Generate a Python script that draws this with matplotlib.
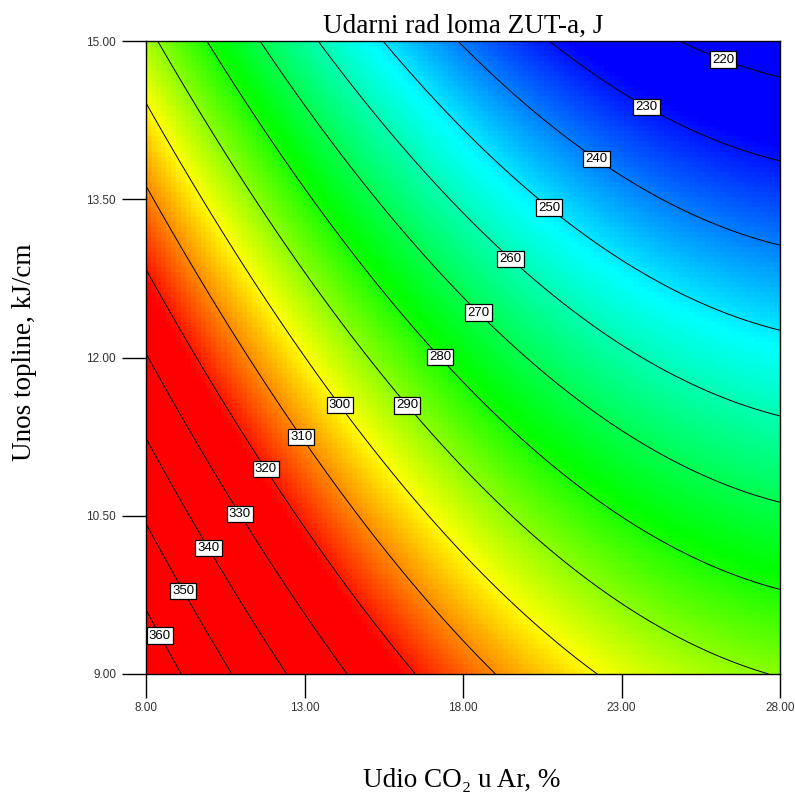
import numpy as np
import matplotlib
matplotlib.use("Agg")
import matplotlib.pyplot as plt
from matplotlib.colors import LinearSegmentedColormap

# ---- data ----
# contour levels (J)
levels = [220, 230, 240, 250, 260, 270, 280, 290, 300, 310, 320, 330, 340, 350, 360]

# crossings of contour lines with the plot frame
# left edge (CO2 = 8): level -> heat input
left_levels = [300, 310, 320, 330, 340, 350, 360]
left_y = [14.41, 13.61, 12.80, 12.00, 11.19, 10.39, 9.59]
# bottom edge (heat input = 9): level -> CO2
bottom_levels = [360, 350, 340, 330, 320, 310, 300]
bottom_x = [9.07, 10.68, 12.38, 14.25, 16.39, 18.92, 22.19]
# right edge (CO2 = 28)
right_levels = [220, 230, 240, 250, 260, 270, 280, 290]
right_y = [14.65, 13.84, 13.04, 12.23, 11.43, 10.62, 9.82, 9.02]
# top edge (heat input = 15)
top_levels = [290, 280, 270, 260, 250, 240, 230, 220]
top_x = [8.41, 9.96, 11.63, 13.39, 15.44, 17.75, 20.62, 24.72]

# contour label locations (on the lines)
label_levels = [220, 230, 240, 250, 260, 270, 280, 290, 300, 310, 320, 330, 340, 350, 360]
label_x = [26.27, 23.84, 22.23, 20.74, 19.51, 18.50, 17.27, 16.26, 14.12, 12.95, 11.82, 11.03, 10.02, 9.29, 8.54]
label_y = [14.88, 14.40, 13.89, 13.43, 12.94, 12.43, 12.00, 11.55, 11.55, 11.26, 10.95, 10.53, 10.20, 9.81, 9.38]

x_ticks = [8.0, 13.0, 18.0, 23.0, 28.0]
y_ticks = [9.0, 10.5, 12.0, 13.5, 15.0]

# ---- quadratic response surface fitted to the read contour points ----
px = np.concatenate([np.full(len(left_y), 8.0), bottom_x, np.full(len(right_y), 28.0), top_x, label_x])
py = np.concatenate([left_y, np.full(len(bottom_x), 9.0), right_y, np.full(len(top_x), 15.0), label_y])
pz = np.concatenate([left_levels, bottom_levels, right_levels, top_levels, label_levels]).astype(float)

def design(x, y):
    return np.column_stack([np.ones_like(x), x, y, x * y, x ** 2, y ** 2])

coef, *_ = np.linalg.lstsq(design(px, py), pz, rcond=None)

def surface(X, Y):
    return (coef[0] + coef[1] * X + coef[2] * Y + coef[3] * X * Y
            + coef[4] * X ** 2 + coef[5] * Y ** 2)

# coarse grid for the colour field (blocky like the original), fine grid for lines
ncell = 126
xe = np.linspace(8, 28, ncell + 1)
ye = np.linspace(9, 15, ncell + 1)
xc = 0.5 * (xe[:-1] + xe[1:])
yc = 0.5 * (ye[:-1] + ye[1:])
XC, YC = np.meshgrid(xc, yc)
ZC = surface(XC, YC)

xf = np.linspace(8, 28, 400)
yf = np.linspace(9, 15, 400)
XF, YF = np.meshgrid(xf, yf)
ZF = surface(XF, YF)

# ---- colour map: blue -> cyan -> green -> yellow -> red ----
vmin, vmax = 228.0, 322.0
nodes = [(228, (0, 0, 1)), (252, (0, 1, 1)), (278, (0, 1, 0)), (300, (1, 1, 0)), (322, (1, 0, 0))]
cmap = LinearSegmentedColormap.from_list(
    "de", [((v - vmin) / (vmax - vmin), c) for v, c in nodes])

fig = plt.figure(figsize=(7.95, 8.0), dpi=100)
ax = fig.add_axes([146 / 795, 1 - 674 / 800, 634 / 795, 633 / 800])

ax.pcolormesh(xe, ye, ZC, cmap=cmap, vmin=vmin, vmax=vmax, shading="flat")
cs = ax.contour(XF, YF, ZF, levels=levels, colors="black", linewidths=0.7)
ax.clabel(cs, levels=levels, inline=False, fmt="%d", fontsize=9.5,
          manual=list(zip(label_x, label_y)))
for t in cs.labelTexts:
    t.set_rotation(0)
    t.set_family("Liberation Sans")
    t.set_bbox(dict(facecolor="white", edgecolor="black", linewidth=0.9, pad=1.5))
    t.set_zorder(5)

ax.set_xlim(8, 28)
ax.set_ylim(9, 15)
ax.set_xticks(x_ticks)
ax.set_yticks(y_ticks)
ax.set_xticklabels([f"{v:.2f}" for v in x_ticks])
ax.set_yticklabels([f"{v:.2f}" for v in y_ticks])
ax.tick_params(direction="out", length=17, width=1.0, labelsize=8.5,
               labelcolor="#333333")
ax.tick_params(axis="x", pad=3)
ax.tick_params(axis="y", pad=4.5)
for lab in ax.get_xticklabels() + ax.get_yticklabels():
    lab.set_family("Liberation Sans")
for s in ax.spines.values():
    s.set_linewidth(1.0)

ax.set_title("Udarni rad loma ZUT-a, J", fontfamily="Liberation Serif",
             fontsize=19.5, pad=6)
fig.text(462 / 795, 1 - 780 / 800, "Udio CO\u2082 u Ar, %", ha="center", va="center",
         fontfamily="Liberation Serif", fontsize=19.5)
fig.text(25 / 795, 1 - 352 / 800, "Unos topline, kJ/cm", ha="center", va="center",
         rotation=90, fontfamily="Liberation Serif", fontsize=19.5)

fig.savefig("out.png", dpi=100)
